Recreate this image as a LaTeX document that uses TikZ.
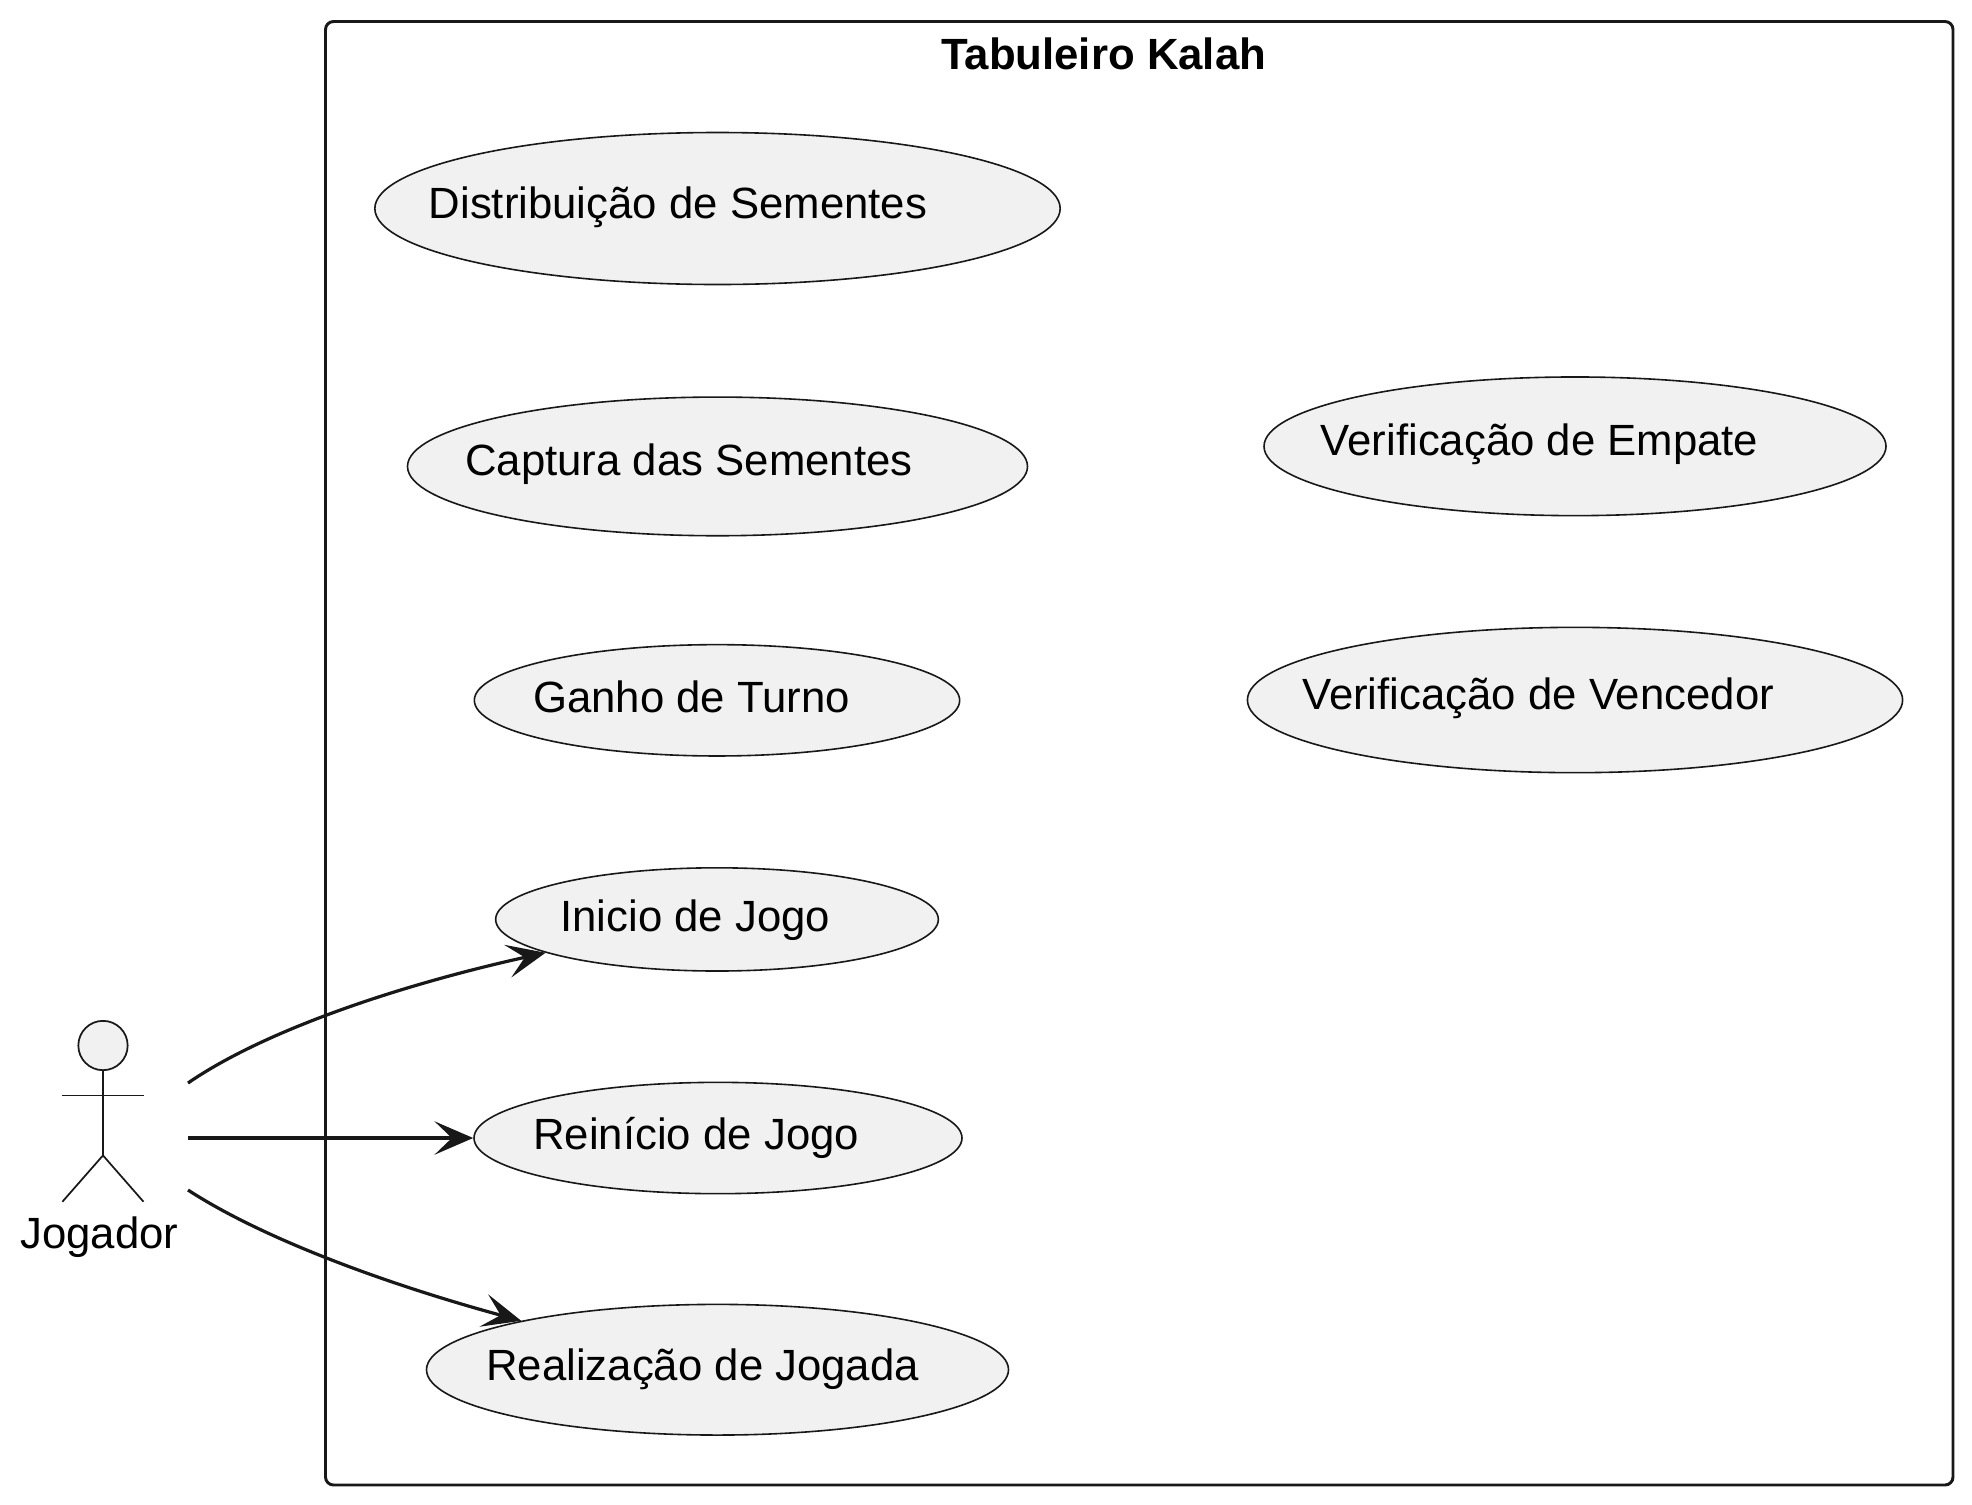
\documentclass[tikz,border=0pt]{standalone}
\usepackage{fontspec}
\setmainfont{Liberation Sans}
\usetikzlibrary{arrows.meta,shapes.geometric}
\definecolor{ink}{HTML}{181818}
\definecolor{ucfill}{HTML}{F1F1F1}
\tikzset{
  x=0.75pt,y=-0.75pt,
  usecase/.style={ellipse,draw=ink,fill=ucfill,line width=1.2pt,inner sep=0pt},
  uclabel/.style={anchor=base west,inner sep=0pt,font=\fontsize{32.8pt}{40pt}\selectfont,text=black},
  actorline/.style={draw=ink,line width=1.3pt},
  frameline/.style={draw=ink,line width=2.2pt,rounded corners=6pt},
  link/.style={draw=ink,line width=2.4pt,-{Stealth[length=29pt,width=25pt,inset=13pt]}},
}
\begin{document}
\begin{tikzpicture}
\useasboundingbox[fill=white] (0,0) rectangle (1972,1504);
% system frame
\draw[frameline] (325.5,21.5) rectangle (1953,1485);
\node[anchor=base west,inner sep=0pt,font=\bfseries\fontsize{32.8pt}{38pt}\selectfont] (title) at (941,69) {Tabuleiro Kalah};
% use cases
\node[usecase,minimum width=514pt,minimum height=114pt] (dist) at (717.5,208.5) {};
\node[uclabel] (distT) at (428.5,218) {Distribuição de Sementes};
\node[usecase,minimum width=465pt,minimum height=104pt] (capt) at (717.5,466.4) {};
\node[uclabel] (captT) at (465,475) {Captura das Sementes};
\node[usecase,minimum width=364pt,minimum height=83.5pt] (ganho) at (717,700.3) {};
\node[uclabel] (ganhoT) at (533,712) {Ganho de Turno};
\node[usecase,minimum width=332pt,minimum height=77.4pt] (inicio) at (717,919.4) {};
\node[uclabel] (inicioT) at (560,931) {Inicio de Jogo};
\node[usecase,minimum width=366pt,minimum height=83.5pt] (reinicio) at (718,1138) {};
\node[uclabel] (reinicioT) at (533,1149.5) {Reinício de Jogo};
\node[usecase,minimum width=436.5pt,minimum height=98pt] (realiz) at (717.5,1369.7) {};
\node[uclabel] (realizT) at (486,1380) {Realização de Jogada};
\node[usecase,minimum width=466.5pt,minimum height=104pt] (empate) at (1575,446.3) {};
\node[uclabel] (empateT) at (1320.5,455) {Verificação de Empate};
\node[usecase,minimum width=491.4pt,minimum height=109pt] (venc) at (1575,700) {};
\node[uclabel] (vencT) at (1302,709) {Verificação de Vencedor};
% actor
\node[circle,draw=ink,fill=ucfill,line width=1.3pt,minimum size=37pt,inner sep=0pt] (head) at (103,1045.5) {};
\coordinate (hip) at (103,1155.4);
\coordinate (armL) at (62.4,1095.4);
\coordinate (armR) at (143.5,1095.4);
\coordinate (footL) at (62.4,1201.7);
\coordinate (footR) at (143.5,1201.7);
\draw[actorline] (head.south) -- (hip);
\draw[actorline] (armL) -- (armR);
\draw[actorline] (footL) -- (hip) -- (footR);
\node[uclabel] (jogador) at (20,1248) {Jogador};
% connectors
\coordinate (startA) at (188,1083);
\coordinate (startB) at (188,1138);
\coordinate (startC) at (188,1190);
\draw[link] (startA) .. controls (265,1030) and (400,985) .. (inicio.191);
\draw[link] (startB) -- (reinicio.west);
\draw[link] (startC) .. controls (265,1240) and (390,1285) .. (realiz.166);
\end{tikzpicture}
\end{document}
